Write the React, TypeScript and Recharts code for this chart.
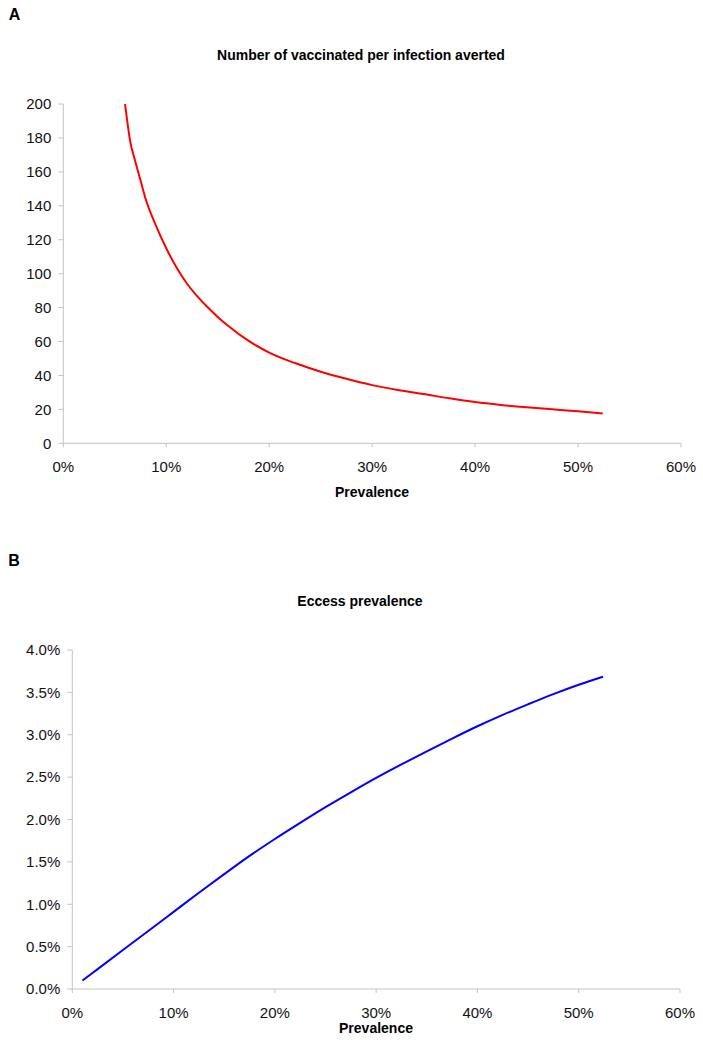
import { Line, LineChart, XAxis, YAxis } from "recharts";

// Panel A: number vaccinated per infection averted vs prevalence (%)
const prevA = [6.0, 6.5, 7.0, 7.5, 8.0, 9.0, 10, 11, 12, 13, 14, 15, 16, 18, 20, 22.5, 25, 27.5, 30, 32.5, 35, 37.5, 40, 42.5, 45, 47.5, 50, 52.4];
const vaccA = [200, 178, 166, 155, 144, 128.3, 115, 103.6, 94.2, 86.8, 80.3, 74.5, 69.3, 60.4, 53.5, 47.3, 42.2, 38.0, 34.3, 31.4, 29.0, 26.5, 24.3, 22.6, 21.2, 20.0, 18.9, 17.6];

// Panel B: excess prevalence (%) vs prevalence (%)
const prevB = [1, 2.5, 5, 7.5, 10, 12.5, 15, 17.5, 20, 22.5, 25, 27.5, 30, 32.5, 35, 37.5, 40, 42.5, 45, 47.5, 50, 52.4];
const excessB = [0.1, 0.235, 0.46, 0.685, 0.91, 1.135, 1.355, 1.57, 1.77, 1.96, 2.145, 2.32, 2.49, 2.65, 2.805, 2.955, 3.1, 3.235, 3.36, 3.48, 3.59, 3.685];

const xTicks = [0, 10, 20, 30, 40, 50, 60];
const yTicksA = [0, 20, 40, 60, 80, 100, 120, 140, 160, 180, 200];
const yTicksB = [0, 0.5, 1, 1.5, 2, 2.5, 3, 3.5, 4];

const dataA = prevA.map((p, i) => ({ p, v: vaccA[i] }));
const dataB = prevB.map((p, i) => ({ p, v: excessB[i] }));

const font = '"Liberation Sans", Arial, sans-serif';
const axisGray = "#c4c4c4";
const tickStyle = { fill: "#111", fontSize: 15, fontFamily: font };

function Text({
  x,
  y,
  size,
  children,
}: {
  x: number;
  y: number;
  size: number;
  children: string;
}) {
  return (
    <div
      style={{
        position: "absolute",
        left: x,
        top: y - 10,
        height: 20,
        lineHeight: "20px",
        transform: "translateX(-50%)",
        whiteSpace: "nowrap",
        fontFamily: font,
        fontWeight: 700,
        fontSize: size,
        color: "#000",
      }}
    >
      {children}
    </div>
  );
}

export default function App() {
  return (
    <div
      style={{
        position: "absolute",
        left: 0,
        top: 0,
        width: 703,
        height: 1049,
        background: "#fff",
        overflow: "hidden",
      }}
    >
      <Text x={14.5} y={15} size={16}>A</Text>
      <Text x={361} y={55} size={14}>Number of vaccinated per infection averted</Text>
      <Text x={372} y={492} size={14}>Prevalence</Text>

      <Text x={14} y={561} size={16}>B</Text>
      <Text x={360} y={601} size={14}>Eccess prevalence</Text>
      <Text x={376} y={1028} size={14}>Prevalence</Text>

      <div style={{ position: "absolute", left: 0, top: 0 }}>
        <LineChart
          width={703}
          height={520}
          data={dataA}
          margin={{ top: 104, right: 22, bottom: 46.7, left: 0 }}
        >
          <XAxis
            dataKey="p"
            type="number"
            domain={[0, 60]}
            ticks={xTicks}
            tickFormatter={(v) => `${v}%`}
            stroke={axisGray}
            tickSize={4}
            tickMargin={14}
            tick={tickStyle}
            height={30}
            interval={0}
          />
          <YAxis
            type="number"
            domain={[0, 200]}
            ticks={yTicksA}
            stroke={axisGray}
            tickSize={5}
            tickMargin={7}
            tick={tickStyle}
            width={63.3}
            interval={0}
          />
          <Line
            dataKey="v"
            type="monotone"
            stroke="#ff0000"
            strokeWidth={2}
            dot={false}
            isAnimationActive={false}
          />
        </LineChart>
      </div>

      <div style={{ position: "absolute", left: 0, top: 530 }}>
        <LineChart
          width={703}
          height={519}
          data={dataB}
          margin={{ top: 120, right: 23, bottom: 30, left: 0 }}
        >
          <XAxis
            dataKey="p"
            type="number"
            domain={[0, 60]}
            ticks={xTicks}
            tickFormatter={(v) => `${v}%`}
            stroke={axisGray}
            tickSize={4}
            tickMargin={14}
            tick={tickStyle}
            height={30}
            interval={0}
          />
          <YAxis
            type="number"
            domain={[0, 4]}
            ticks={yTicksB}
            tickFormatter={(v) => `${Number(v).toFixed(1)}%`}
            stroke={axisGray}
            tickSize={5}
            tickMargin={7}
            tick={tickStyle}
            width={72.3}
            interval={0}
          />
          <Line
            dataKey="v"
            type="monotone"
            stroke="#0000ff"
            strokeWidth={2}
            dot={false}
            isAnimationActive={false}
          />
        </LineChart>
      </div>
    </div>
  );
}
